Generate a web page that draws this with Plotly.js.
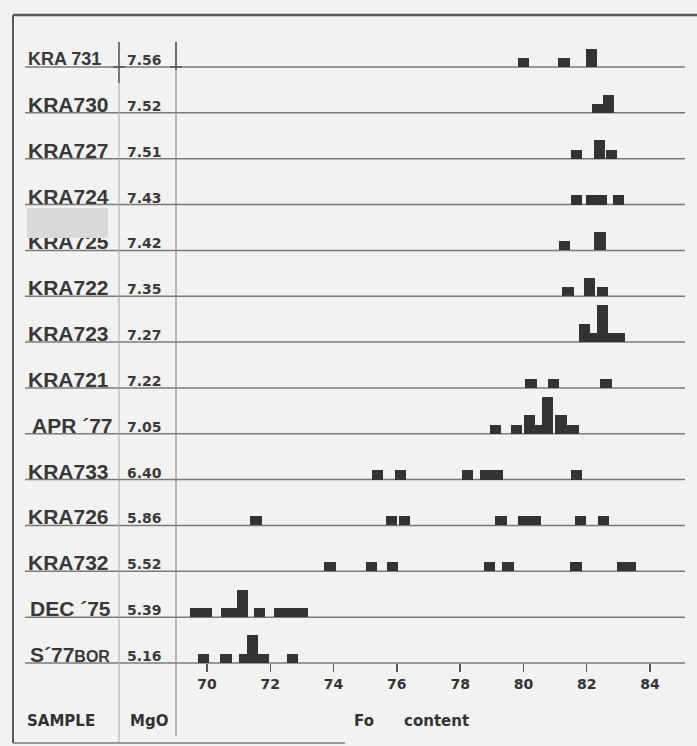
<!DOCTYPE html>
<html>
<head>
<meta charset="utf-8">
<script src="https://cdn.plot.ly/plotly-3.0.1.min.js"></script>
<style>
  html, body { margin: 0; padding: 0; background: #f2f2f0; }
  #chart { width: 697px; height: 746px; }
</style>
</head>
<body>
<div id="chart"></div>
<script>
// Olivine Fo-content histograms, one row per sample (top to bottom).
const sampleNames = ['KRA 731', 'KRA730', 'KRA727', 'KRA724', 'KRA725', 'KRA722', 'KRA723',
                     'KRA721', 'APR \u00b477', 'KRA733', 'KRA726', 'KRA732', 'DEC \u00b475',
                     'S\u00b477<span style="font-size:16px">BOR</span>'];
const mgoValues = ['7.56', '7.52', '7.51', '7.43', '7.42', '7.35', '7.27',
                   '7.22', '7.05', '6.40', '5.86', '5.52', '5.39', '5.16'];

// Bin centres (Fo mol%) and grain counts for each sample
const foKRA731 = [80.0, 81.28, 82.15];
const nKRA731  = [1, 1, 2];
const foKRA730 = [82.34, 82.69];
const nKRA730  = [1, 2];
const foKRA727 = [81.68, 82.40, 82.78];
const nKRA727  = [1, 2, 1];
const foKRA724 = [81.69, 82.17, 82.48, 83.0];
const nKRA724  = [1, 1, 1, 1];
const foKRA725 = [81.30, 82.42];
const nKRA725  = [1, 2];
const foKRA722 = [81.41, 82.10, 82.50];
const nKRA722  = [1, 2, 1];
const foKRA723 = [81.92, 82.22, 82.50, 82.75, 83.02];
const nKRA723  = [2, 1, 4, 1, 1];
const foKRA721 = [80.24, 80.94, 82.61];
const nKRA721  = [1, 1, 1];
const foAPR77  = [79.13, 79.77, 80.20, 80.49, 80.76, 81.19, 81.57];
const nAPR77   = [1, 1, 2, 1, 4, 2, 1];
const foKRA733 = [75.40, 76.12, 78.23, 78.82, 79.17, 81.69];
const nKRA733  = [1, 1, 1, 1, 1, 1];
const foKRA726 = [71.55, 75.82, 76.24, 79.29, 80.0, 80.37, 81.80, 82.52];
const nKRA726  = [1, 1, 1, 1, 1, 1, 1, 1];
const foKRA732 = [73.89, 75.21, 75.86, 78.94, 79.51, 81.66, 83.12, 83.39];
const nKRA732  = [1, 1, 1, 1, 1, 1, 1, 1];
const foDEC75  = [69.64, 69.98, 70.63, 70.78, 71.13, 71.66, 72.31, 72.66, 73.02];
const nDEC75   = [1, 1, 1, 1, 3, 1, 1, 1, 1];
const foS77BOR = [69.89, 70.60, 71.18, 71.45, 71.79, 72.71];
const nS77BOR  = [1, 1, 1, 3, 1, 1];

const foTicks = [70, 72, 74, 76, 78, 80, 82, 84];

const rowFo = [foKRA731, foKRA730, foKRA727, foKRA724, foKRA725, foKRA722, foKRA723,
               foKRA721, foAPR77, foKRA733, foKRA726, foKRA732, foDEC75, foS77BOR];
const rowN  = [nKRA731, nKRA730, nKRA727, nKRA724, nKRA725, nKRA722, nKRA723,
               nKRA721, nAPR77, nKRA733, nKRA726, nKRA732, nDEC75, nS77BOR];

// ---- page geometry (pixels) ----
const W = 697, H = 746;
const L = 176, R = 685, T = 15, B = 663;   // plot area
const TOP_ROW_PX = 67;                      // baseline of the first row
const ROW_STEP = 5;                          // grain counts between row baselines
const BIN = 0.355;                           // histogram bin width, Fo units
const nRows = sampleNames.length;
const pxPerCount = (B - TOP_ROW_PX) / ((nRows - 1) * ROW_STEP);
const yTop = (B - T) / pxPerCount;

const px2x = px => (px - L) / (R - L);
const px2y = py => (B - py) / (B - T);
const baseOf = i => (nRows - 1 - i) * ROW_STEP;

const ink = '#333333';
const lineGrey = '#7a7a7a';
const labelFont = { family: 'Liberation Sans, Arial, sans-serif', size: 21, color: '#383838', weight: 700 };
const smallFont = { family: 'DejaVu Sans, sans-serif', size: 14, color: '#3a3a3a', weight: 700 };

// one bar trace per sample, stacked on its own baseline
const traces = rowFo.map((fo, i) => ({
  type: 'bar',
  x: fo,
  y: rowN[i],
  base: baseOf(i),
  width: BIN,
  marker: { color: ink, line: { width: 0 } },
  hoverinfo: 'skip',
  showlegend: false
}));

const shapes = [];
const annotations = [];

// row baselines running under the labels and across the plot
for (let i = 0; i < nRows; i++) {
  const b = baseOf(i);
  const seg = { type: 'line', xref: 'paper', x0: px2x(25), x1: px2x(R),
                line: { color: lineGrey, width: 1.5 }, layer: 'below' };
  if (b === 0) { seg.yref = 'paper'; seg.y0 = 0; seg.y1 = 0; }
  else { seg.yref = 'y'; seg.y0 = b; seg.y1 = b; }
  shapes.push(seg);
}

function vline(px, py0, py1, color, width) {
  shapes.push({ type: 'line', xref: 'paper', yref: 'paper',
                x0: px2x(px), x1: px2x(px), y0: px2y(py0), y1: px2y(py1),
                line: { color: color, width: width } });
}
function hline(px0, px1, py, color, width) {
  shapes.push({ type: 'line', xref: 'paper', yref: 'paper',
                x0: px2x(px0), x1: px2x(px1), y0: px2y(py), y1: px2y(py),
                line: { color: color, width: width } });
}

// column separators
vline(119, 42, 742, '#a4a4a4', 1);
vline(176, 42, 736, '#8e8e8e', 1.2);
vline(119, 42, 83, '#4a4a4a', 1.3);
vline(176, 42, 70, '#4a4a4a', 1.3);
hline(113, 125, TOP_ROW_PX, '#4a4a4a', 1.3);
hline(170, 182, TOP_ROW_PX, '#4a4a4a', 1.3);

// frame
hline(13, W, 15, '#5a5a5a', 2.5);
vline(13, 15, 743, '#5a5a5a', 2);
hline(13, 345, 743, '#7a7a7a', 1.5);

// sample names and MgO values
sampleNames.forEach((name, i) => {
  const small = (i === 0);
  annotations.push({
    text: name, showarrow: false,
    xref: 'paper', x: px2x(i === 8 ? 30 : (i >= 12 ? 28 : 26)), xanchor: 'left',
    yref: 'y', y: baseOf(i), yanchor: 'bottom', yshift: small ? -4 : -5,
    font: Object.assign({}, labelFont, small ? { size: 18 } : {})
  });
  annotations.push({
    text: mgoValues[i], showarrow: false,
    xref: 'paper', x: px2x(164), xanchor: 'right',
    yref: 'y', y: baseOf(i), yanchor: 'bottom', yshift: -3,
    font: smallFont
  });
});

// grey patch over part of the KRA725 label
annotations.push({
  text: '\u00a0', showarrow: false,
  xref: 'paper', x: px2x(27), xanchor: 'left',
  yref: 'paper', y: px2y(208), yanchor: 'top',
  width: 81, height: 30, borderpad: 0, borderwidth: 0,
  bgcolor: '#d9d9d9'
});

// column headings
const headFont = { family: 'DejaVu Sans, sans-serif', size: 15, color: '#333333', weight: 700 };
[['SAMPLE', 25], ['MgO', 128], ['Fo', 352], ['content', 402]].forEach(([t, px]) => {
  annotations.push({
    text: t, showarrow: false,
    xref: 'paper', x: px2x(px), xanchor: 'left',
    yref: 'paper', y: px2y(721), yanchor: 'middle',
    font: headFont
  });
});

const layout = {
  width: W, height: H, autosize: false,
  margin: { l: L, r: W - R, t: T, b: H - B, pad: 0 },
  paper_bgcolor: '#f2f2f0',
  plot_bgcolor: '#f2f2f0',
  barmode: 'overlay',
  bargap: 0,
  showlegend: false,
  xaxis: {
    range: [70 + (L - 207) / 31.64, 70 + (R - 207) / 31.64],
    tickmode: 'array', tickvals: foTicks, ticktext: foTicks.map(String),
    ticks: 'outside', ticklen: 8, tickwidth: 1.5, tickcolor: '#555555',
    showline: false, showgrid: false, zeroline: false,
    tickfont: { family: 'DejaVu Sans, sans-serif', size: 14, color: '#333333', weight: 700 },
    fixedrange: true
  },
  yaxis: {
    range: [0, yTop], visible: false, fixedrange: true
  },
  shapes: shapes,
  annotations: annotations
};

Plotly.newPlot('chart', traces, layout, { staticPlot: true, displayModeBar: false });
</script>
</body>
</html>
